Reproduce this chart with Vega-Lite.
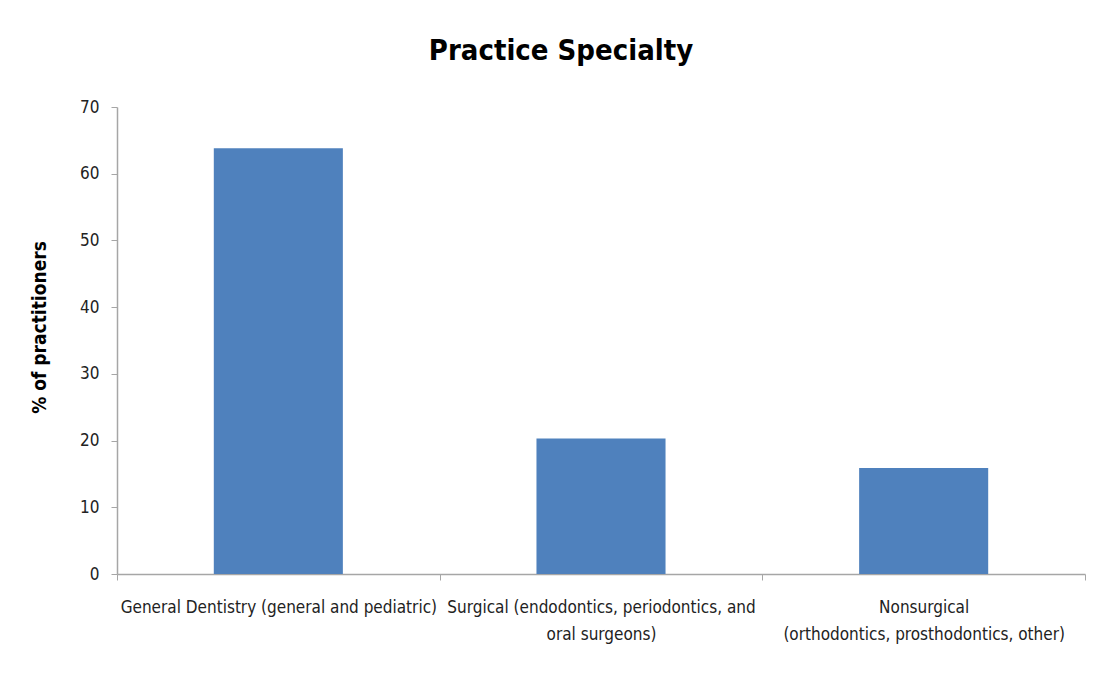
{
  "$schema": "https://vega.github.io/schema/vega-lite/v6.json",
  "autosize": "none",
  "width": 968,
  "height": 467,
  "padding": {"left": 117, "top": 107, "right": 14, "bottom": 99},
  "background": "white",
  "title": {
    "text": "Practice Specialty",
    "font": "DejaVu Sans Condensed",
    "fontSize": 29,
    "fontWeight": "bold",
    "color": "black",
    "anchor": "middle",
    "dx": -40,
    "offset": 32
  },
  "data": {
    "values": [
      {"specialty": "General Dentistry (general and pediatric)", "pct": 63.8},
      {"specialty": "Surgical (endodontics, periodontics, and\noral surgeons)", "pct": 20.3},
      {"specialty": "Nonsurgical\n(orthodontics, prosthodontics, other)", "pct": 15.9}
    ]
  },
  "mark": {"type": "bar", "color": "#4f81bd", "width": {"band": 0.4}},
  "encoding": {
    "x": {
      "field": "specialty",
      "type": "nominal",
      "sort": null,
      "scale": {"paddingInner": 0, "paddingOuter": 0},
      "axis": {
        "title": null,
        "labelAngle": 0,
        "labelExpr": "split(datum.label, '\\n')",
        "labelFont": "DejaVu Sans Condensed",
        "labelFontSize": 17,
        "labelColor": "#222",
        "labelPadding": 19,
        "labelLineHeight": 27,
        "labelLimit": 400,
        "tickBand": "extent",
        "tickSize": 6,
        "domainColor": "#a6a6a6",
        "tickColor": "#a6a6a6",
        "domainWidth": 1.5
      }
    },
    "y": {
      "field": "pct",
      "type": "quantitative",
      "scale": {"domain": [0, 70]},
      "axis": {
        "title": "% of practitioners",
        "titleFont": "DejaVu Sans Condensed",
        "titleFontSize": 19,
        "titleFontWeight": "bold",
        "titleColor": "black",
        "titlePadding": 30,
        "titleY": 220,
        "values": [0, 10, 20, 30, 40, 50, 60, 70],
        "grid": false,
        "labelFont": "DejaVu Sans Condensed",
        "labelFontSize": 17,
        "labelColor": "#222",
        "labelPadding": 12,
        "tickSize": 6,
        "domainColor": "#a6a6a6",
        "tickColor": "#a6a6a6",
        "domainWidth": 1.5
      }
    }
  },
  "config": {"view": {"stroke": null}}
}
